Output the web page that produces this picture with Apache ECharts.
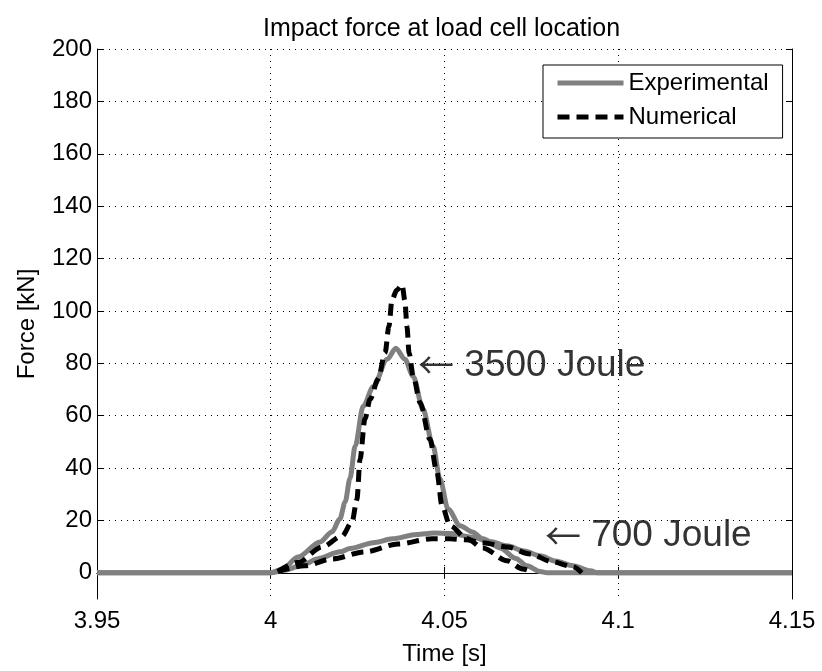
<!DOCTYPE html>
<html>
<head>
<meta charset="utf-8">
<script src="https://cdn.jsdelivr.net/npm/echarts@6/dist/echarts.min.js"></script>
<style>
html, body { margin: 0; padding: 0; background: #fff; }
#chart { width: 822px; height: 671px; }
</style>
</head>
<body>
<div id="chart"></div>
<script>
// time [s] and force [kN]
const timeExp3500 = [3.95, 4.0, 4.0035, 4.0078, 4.0142, 4.0176, 4.0199, 4.0214, 4.0228, 4.0243, 4.0266, 4.0295, 4.0335, 4.036, 4.0386, 4.041, 4.0438, 4.0467, 4.0487, 4.051, 4.0545, 4.058, 4.061, 4.066, 4.0705, 4.0737, 4.0775, 4.0795, 4.15];
const forceExp3500 = [0, 0, 1.5, 6, 11.8, 15.6, 20.6, 27, 36, 48.4, 63.6, 71, 81.5, 85.7, 81.5, 75, 62.5, 48.4, 35.8, 24.4, 18, 15.6, 13, 9.5, 5.5, 2.7, 0.5, 0, 0];

const timeExp700 = [3.95, 4.0, 4.004, 4.01, 4.0133, 4.02, 4.0228, 4.03, 4.035, 4.042, 4.047, 4.052, 4.058, 4.063, 4.068, 4.073, 4.0775, 4.082, 4.087, 4.092, 4.094, 4.15];
const forceExp700 = [0, 0, 1, 3.5, 5.3, 8, 9.3, 11.6, 13, 14.6, 15.2, 15, 13.6, 12, 10.3, 8.3, 6.5, 4.5, 2.7, 0.8, 0, 0];

const timeNum3500 = [4.002, 4.0078, 4.0148, 4.0205, 4.0234, 4.0248, 4.0257, 4.0271, 4.0286, 4.0309, 4.0329, 4.034, 4.0349, 4.0363, 4.0378, 4.0386, 4.0392, 4.0398, 4.041, 4.043, 4.0458, 4.0478, 4.0493, 4.0516, 4.0565, 4.061, 4.068, 4.0725, 4.075];
const forceNum3500 = [0.5, 4, 9.9, 14, 19.4, 28, 43.4, 58.7, 66.3, 74, 84, 94, 104.4, 108, 110, 104, 94, 84, 75, 65, 51, 38.5, 25.5, 18, 13, 9.5, 4.6, 1.5, 0.5];

const timeNum700 = [4.002, 4.0098, 4.0176, 4.0271, 4.0366, 4.0464, 4.0516, 4.056, 4.061, 4.068, 4.0746, 4.081, 4.087, 4.0895];
const forceNum700 = [0.5, 2.7, 5.3, 8, 11, 13, 13, 12.6, 11.5, 9.9, 7.2, 4.2, 2.3, 0];

const xTicks = [3.95, 4.0, 4.05, 4.1, 4.15];
const yTicks = [0, 20, 40, 60, 80, 100, 120, 140, 160, 180, 200];

const noteText = ["3500 Joule", "700 Joule"];
const noteTime = [4.0424, 4.0789];
const noteForce = [79.2, 14.1];

const font = "Liberation Sans, Arial, sans-serif";
const zip = (xs, ys) => xs.map((x, i) => [x, ys[i]]);

let myChart = echarts.init(document.getElementById("chart"));

const gridDots = { color: "#000", width: 1, type: [1, 5] };
const textBase = { color: "#000", fontFamily: font, fontSize: 24 };

const expStyle = { color: "#808080", width: 5 };
const numStyle = { color: "#000", width: 5, type: [12, 7] };

function lineSeries(name, xs, ys, style) {
  return {
    name: name,
    type: "line",
    data: zip(xs, ys),
    symbol: "none",
    showSymbol: false,
    smooth: 0.3,
    smoothMonotone: "x",
    lineStyle: style,
    itemStyle: { color: style.color },
    z: name === "Numerical" ? 3 : 2,
  };
}

const option = {
  animation: false,
  backgroundColor: "#fff",
  title: {
    text: "Impact force at load cell location",
    left: 263,
    top: 17,
    padding: 0,
    textStyle: { color: "#000", fontFamily: font, fontSize: 25, fontWeight: "normal" },
  },
  grid: { left: 97, right: 30, top: 49, bottom: 70 },
  legend: {
    data: ["Experimental", "Numerical"],
    orient: "vertical",
    left: 543,
    top: 65,
    padding: [6, 14, 9, 12],
    itemWidth: 66,
    itemHeight: 14,
    itemGap: 10,
    backgroundColor: "#fff",
    borderColor: "#000",
    borderWidth: 1,
    selectedMode: false,
    itemStyle: { opacity: 0 },
    lineStyle: { width: 5 },
    textStyle: Object.assign({ lineHeight: 24 }, textBase),
  },
  xAxis: [
    {
      type: "value",
      min: 3.95,
      max: 4.15,
      interval: 0.05,
      name: "Time [s]",
      nameLocation: "middle",
      nameGap: 43,
      nameTextStyle: textBase,
      axisLine: { lineStyle: { color: "#000", width: 1 } },
      axisTick: { inside: true, length: 6, customValues: xTicks, lineStyle: { color: "#000" } },
      axisLabel: Object.assign({ margin: 10, customValues: xTicks, formatter: (v) => String(+v.toFixed(2)) }, textBase),
      splitLine: { show: true, lineStyle: gridDots },
    },
    {
      type: "value",
      position: "top",
      min: 3.95,
      max: 4.15,
      interval: 0.05,
      axisLine: { lineStyle: { color: "#000", width: 1 } },
      axisTick: { inside: true, length: 6, customValues: xTicks, lineStyle: { color: "#000" } },
      axisLabel: { show: false },
      splitLine: { show: false },
    },
  ],
  yAxis: [
    {
      type: "value",
      min: -10,
      max: 200,
      name: "Force [kN]",
      nameLocation: "middle",
      nameGap: 58,
      nameTextStyle: textBase,
      axisLine: { show: true, lineStyle: { color: "#000", width: 1 } },
      axisTick: { show: true, inside: true, length: 6, customValues: yTicks, lineStyle: { color: "#000" } },
      axisLabel: Object.assign({ margin: 5, customValues: yTicks }, textBase),
      splitLine: { show: true, lineStyle: gridDots },
    },
    {
      type: "value",
      position: "right",
      min: -10,
      max: 200,
      axisLine: { show: true, lineStyle: { color: "#000", width: 1 } },
      axisTick: { show: true, inside: true, length: 6, customValues: yTicks, lineStyle: { color: "#000" } },
      axisLabel: { show: false },
      splitLine: { show: false },
    },
  ],
  series: [
    lineSeries("Experimental", timeExp700, forceExp700, expStyle),
    lineSeries("Experimental", timeExp3500, forceExp3500, expStyle),
    lineSeries("Numerical", timeNum700, forceNum700, numStyle),
    lineSeries("Numerical", timeNum3500, forceNum3500, numStyle),
    {
      type: "scatter",
      symbolSize: 0,
      silent: true,
      z: 5,
      data: noteText.map((t, i) => ({ value: [noteTime[i], noteForce[i]], note: t })),
      label: {
        show: true,
        position: "right",
        distance: 0,
        formatter: (p) => "{arr|\u2190}{txt| " + p.data.note + "}",
        rich: {
          arr: { fontFamily: "Noto Sans CJK SC", fontSize: 36, color: "#000" },
          txt: { fontFamily: font, fontSize: 37, color: "#000" },
        },
      },
    },
  ],
};

myChart.setOption(option);
</script>
</body>
</html>
